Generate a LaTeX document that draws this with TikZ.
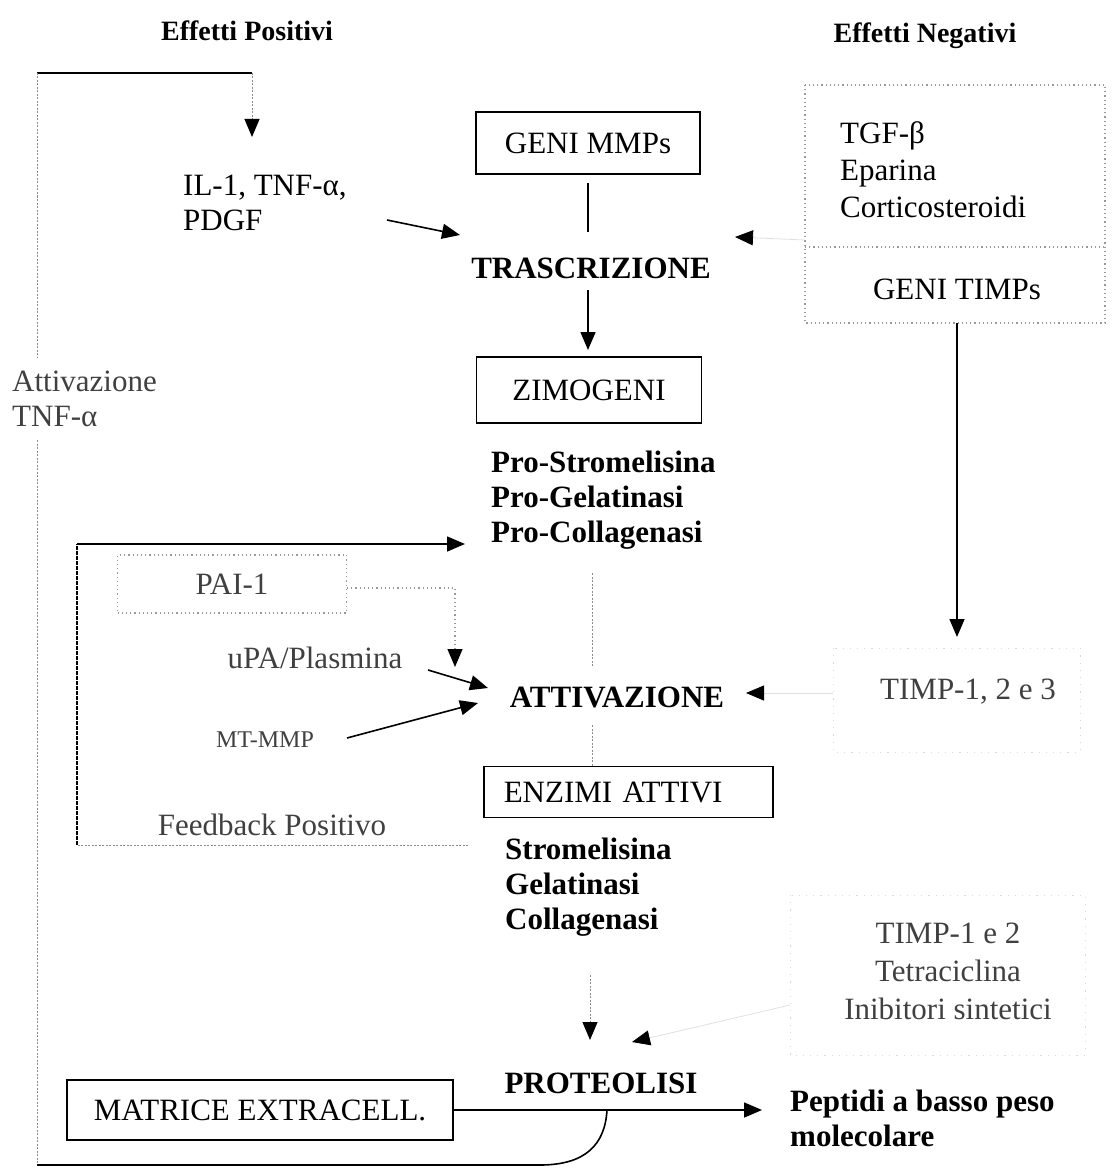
\documentclass[tikz,border=0pt]{standalone}
\usepackage{fontspec}
\setmainfont{Liberation Serif}
\usetikzlibrary{arrows.meta}
\begin{document}
\begin{tikzpicture}[x=1pt,y=-1pt,
  every node/.style={font=\fontsize{31}{35}\selectfont, inner sep=0pt},
  hd/.style={font=\fontsize{28}{34}\selectfont\bfseries},
  bold/.style={font=\fontsize{31}{35}\selectfont\bfseries},
  lt/.style={text=black!75},
  bx/.style={draw, line width=1.6pt},
  dotbox/.style={draw=black!40, line width=1.1pt, dash pattern=on 1.2pt off 3pt},
  vfaint/.style={draw=black!15, line width=1pt, dash pattern=on 1.2pt off 6pt},
  ln/.style={draw=black, line width=1.6pt},
  faint/.style={draw=black!45, line width=1pt, dash pattern=on 2pt off 1.5pt},
  ghost/.style={draw=black!12, line width=0.8pt},
  arr/.style={-{Triangle[length=18pt,width=15pt,color=black]}}]
\useasboundingbox (0,0) rectangle (1112,1169);

% headings
\node[hd] (hpos) at (247,31) {Effetti Positivi};
\node[hd] (hneg) at (925,36) {Effetti Negativi};

% central chain
\node[bx, minimum width=224pt, minimum height=62pt] (gmmp) at (588,143) {GENI MMPs};
\node[bold] (trasc) at (591,268) {TRASCRIZIONE};
\node[bx, minimum width=225pt, minimum height=66pt] (zim) at (589,390) {ZIMOGENI};
\node[bold, align=left, anchor=west] (pro) at (491,500) {Pro-Stromelisina\\Pro-Gelatinasi\\Pro-Collagenasi};
\node[bold] (att) at (617,697) {ATTIVAZIONE};
\node[bx, anchor=west, minimum height=51pt, text width=249pt, inner xsep=20pt, align=left] (enz) at (483,792) {ENZIMI ATTIVI};
\node[bold, align=left, anchor=west] (enzl) at (505,887) {Stromelisina\\Gelatinasi\\Collagenasi};
\node[bold] (prot) at (601,1083) {PROTEOLISI};
\node[bx, minimum width=386pt, minimum height=60pt] (mat) at (260,1110) {MATRICE EXTRACELL.};
\node[bold, align=left, anchor=west] (pep) at (790,1118) {Peptidi a basso peso\\molecolare};

% positive effects
\node[align=left, anchor=west] (il) at (183,203) {IL-1, TNF-α,\\PDGF};
\node[lt, align=left, anchor=west] (attnf) at (12,399) {Attivazione\\TNF-α};
\node[dotbox, minimum width=229pt, minimum height=58pt, text=black!75] (pai) at (232,584) {PAI-1};
\node[lt] (upa) at (315,658) {uPA/Plasmina};
\node[lt, font=\fontsize{24}{28}\selectfont] (mt) at (265,740) {MT-MMP};
\node[lt] (fb) at (272,825) {Feedback Positivo};

% negative effects
\node[align=left, anchor=west, font=\fontsize{31}{37}\selectfont] (neg) at (840,170) {TGF-β\\Eparina\\Corticosteroidi};
\node (gtimp) at (957,289) {GENI TIMPs};
\node[lt] (timp3) at (968,692) {TIMP-1, 2 e 3};
\node[lt, align=center, font=\fontsize{31}{38}\selectfont] (timp2) at (948,971) {TIMP-1 e 2\\Tetraciclina\\Inibitori sintetici};

% boxes of negative effects
\draw[dotbox] (805,85) rectangle (1105,323);
\draw[dotbox] (805,247) -- (1105,247);
\draw[vfaint] (833,648) rectangle (1080,752);
\draw[vfaint] (790,895) rectangle (1085,1055);

% coordinates
\coordinate (tl) at (37,73);
\coordinate (tr) at (252,73);
\coordinate (iltip) at (252,137);
\coordinate (lgap1) at (37,358);
\coordinate (lgap2) at (37,440);
\coordinate (bl) at (37,1165);
\coordinate (bm) at (540,1165);
\coordinate (jn) at (607,1110);
\coordinate (ilS) at (387,220);
\coordinate (ilT) at (460,235);
\coordinate (g1) at (588,183);
\coordinate (g2) at (588,232);
\coordinate (t1) at (588,290);
\coordinate (t2) at (588,350);
\coordinate (nS) at (805,240);
\coordinate (nT) at (735,237);
\coordinate (gt1) at (957,323);
\coordinate (gt2) at (957,637);
\coordinate (tS) at (833,693);
\coordinate (tT) at (746,693);
\coordinate (p1) at (592,573);
\coordinate (p2) at (592,667);
\coordinate (a1) at (592,725);
\coordinate (fbT) at (465,544);
\coordinate (fbTL) at (77,544);
\coordinate (fbBL) at (77,845);
\coordinate (fbBR) at (468,845);
\coordinate (paiC) at (455,588);
\coordinate (paiT) at (455,667);
\coordinate (uS) at (428,670);
\coordinate (uT) at (488,688);
\coordinate (mS) at (347,738);
\coordinate (mT) at (478,703);
\coordinate (cS) at (590,975);
\coordinate (cT) at (590,1040);
\coordinate (iS) at (790,1005);
\coordinate (iT) at (632,1042);
\coordinate (pepT) at (762,1110);

% top-left loop
\draw[ln] (tl) -- (tr);
\draw[faint, arr] (tr) -- (iltip);
\draw[faint] (tl) -- (lgap1);
\draw[faint] (lgap2) -- (bl);
\draw[ln] (bl) -- (bm) .. controls (585,1165) and (605,1145) .. (jn);

% central connectors
\draw[ln, arr] (ilS) -- (ilT);
\draw[ln] (g1) -- (g2);
\draw[ln, arr] (t1) -- (t2);
\draw[ghost, arr] (nS) -- (nT);
\draw[ln, arr] (gt1) -- (gt2);
\draw[ghost, arr] (tS) -- (tT);
\draw[faint] (p1) -- (p2);
\draw[faint] (a1) -- (enz.north -| a1);

% feedback loop
\draw[faint] (fbBR) -- (fbBL);
\draw[ln, dash pattern=on 4pt off 1pt] (fbBL) -- (fbTL);
\draw[ln, arr] (fbTL) -- (fbT);
\draw[dotbox, arr] (pai.east |- paiC) -- (paiC) -- (paiT);
\draw[ln, arr] (uS) -- (uT);
\draw[ln, arr] (mS) -- (mT);

% bottom
\draw[faint, arr] (cS) -- (cT);
\draw[ghost, arr] (iS) -- (iT);
\draw[ln, arr] (mat.east) -- (pepT);
\end{tikzpicture}
\end{document}
